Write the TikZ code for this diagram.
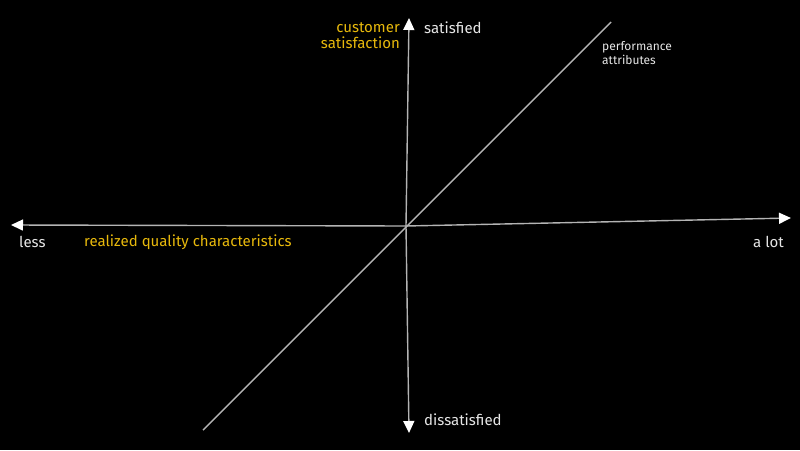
\documentclass[tikz,border=0pt]{standalone}
\usepackage{fontspec}
\setmainfont{Fira Sans}
\usetikzlibrary{arrows.meta}
\definecolor{ylw}{HTML}{E8B90C}
\definecolor{txt}{HTML}{E6E6E6}
\definecolor{ln}{HTML}{B4B4B4}
\begin{document}
\begin{tikzpicture}[x=1pt,y=-1pt,
  lbl/.style={text=txt,font=\fontsize{15}{16}\selectfont,inner sep=0pt},
  ylbl/.style={text=ylw,font=\fontsize{15}{16}\selectfont,inner sep=0pt},
  axis/.style={draw=ln,line width=1.4pt,-{Triangle[width=11pt,length=12pt,color=white]}}]
\fill[black] (0,0) rectangle (800,450);
\useasboundingbox (0,0) rectangle (800,450);
\coordinate (o) at (406,226);
\coordinate (top) at (409,18);
\coordinate (bot) at (409,433);
\coordinate (lft) at (11,225);
\coordinate (rgt) at (791,218);
\coordinate (d1) at (203,430);
\coordinate (d2) at (611,22);
\draw[axis] (o) -- (top);
\draw[axis] (o) -- (bot);
\draw[axis] (o) -- (lft);
\draw[axis] (o) -- (rgt);
\draw[ln,line width=1.4pt] (d1) -- (d2);
\node[ylbl,anchor=east,align=right] (cs) at (400,36) {customer\\satisfaction};
\node[lbl,anchor=west] (sat) at (424,28) {satisfied};
\node[lbl,anchor=west] (dis) at (424,420) {dissatisfied};
\node[lbl,anchor=west] (less) at (19,242) {less};
\node[ylbl,anchor=west] (rq) at (84,242) {realized quality characteristics};
\node[lbl,anchor=east] (alot) at (784,242) {a lot};
\node[lbl,anchor=west,align=left,font=\fontsize{12}{14}\selectfont] (pa) at (602,53) {performance\\attributes};
\end{tikzpicture}
\end{document}
